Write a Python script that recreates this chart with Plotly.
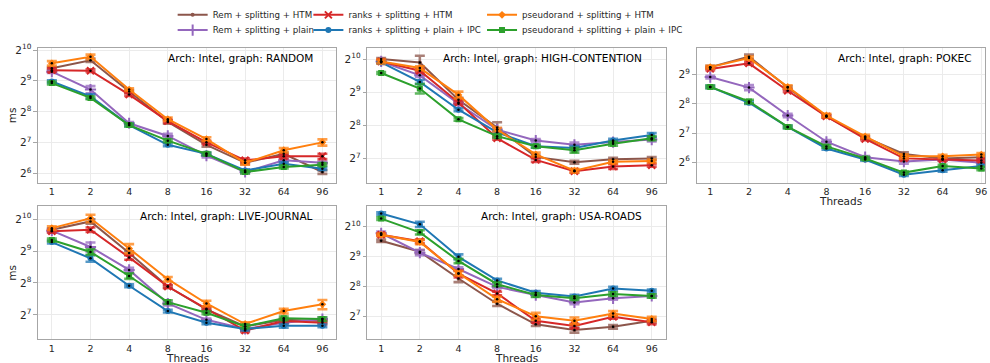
import plotly.graph_objects as go
import math

# ---------------- data (ms) ----------------
threads = ["1", "2", "4", "8", "16", "32", "64", "96"]

series_names = ["Rem + splitting + HTM", "Rem + splitting + plain",
                "ranks + splitting + HTM", "ranks + splitting + plain + IPC",
                "pseudorand + splitting + HTM", "pseudorand + splitting + plain + IPC"]

# RANDOM
random_rem_htm = [680, 815, 404, 204, 122, 81.5, 99.7, 66.3]
random_rem_plain = [630, 422, 198, 149, 95.7, 66.3, 86.2, 81.5]
random_ranks_htm = [652, 644, 377, 208, 129, 86.2, 94.3, 94.3]
random_ranks_ipc = [505, 362, 190, 122, 99.7, 68.6, 79.9, 71.5]
random_pseudo_htm = [760, 879, 422, 217, 139, 81.5, 108, 129]
random_pseudo_ipc = [488, 350, 190, 134, 99.7, 66.3, 74.1, 78.2]

# HIGH-CONTENTION
hc_rem_htm = [1024, 955, 437, 244, 132, 118, 126, 128]
hc_rem_plain = [975, 729, 402, 234, 186, 170, 180, 190]
hc_ranks_htm = [975, 803, 413, 195, 124, 97.7, 108, 111]
hc_ranks_ipc = [955, 635, 355, 221, 165, 159, 186, 209]
hc_pseudo_htm = [975, 849, 484, 234, 139, 99.1, 119, 121]
hc_pseudo_ipc = [765, 553, 290, 204, 165, 152, 174, 195]

# POKEC
pokec_rem_htm = [613, 787, 377, 190, 115, 77.7, 70.0, 72.0]
pokec_rem_plain = [484, 377, 194, 104, 72.0, 64.9, 68.1, 63.1]
pokec_ranks_htm = [588, 671, 350, 190, 111, 70.0, 68.1, 66.7]
pokec_ranks_ipc = [383, 263, 148, 88.6, 68.1, 47.5, 52.7, 58.5]
pokec_pseudo_htm = [613, 760, 383, 194, 118, 73.5, 73.5, 76.6]
pokec_pseudo_ipc = [383, 271, 148, 93.0, 70.0, 49.9, 58.5, 54.9]

# LIVE-JOURNAL
lj_rem_htm = [815, 975, 491, 237, 144, 99.7, 115, 112]
lj_rem_plain = [798, 560, 340, 164, 115, 94.3, 108, 117]
lj_ranks_htm = [787, 815, 446, 237, 146, 91.1, 112, 108]
lj_ranks_ipc = [622, 437, 241, 139, 108, 94.3, 101, 101]
lj_pseudo_htm = [843, 1045, 541, 278, 164, 105, 139, 161]
lj_pseudo_ipc = [652, 502, 298, 169, 134, 99.7, 119, 117]

# USA-ROADS
usa_rem_htm = [739, 572, 307, 171, 106, 93.0, 100, 115]
usa_rem_plain = [879, 560, 383, 253, 209, 176, 194, 205]
usa_ranks_htm = [849, 729, 343, 217, 115, 102, 126, 111]
usa_ranks_ipc = [1389, 1082, 508, 294, 221, 202, 244, 231]
usa_pseudo_htm = [849, 719, 347, 190, 128, 115, 136, 120]
usa_pseudo_ipc = [1235, 898, 462, 269, 209, 194, 214, 205]

# error bars (percent of value)
random_err = [[3, 4, 3, 4, 4, 3, 3, 4], [3, 8, 3, 5, 4, 3, 3, 3], [4, 3, 3, 3, 3, 4, 4, 6],
              [3, 5, 3, 3, 3, 3, 3, 3], [5, 5, 3, 4, 4, 4, 5, 7], [3, 3, 3, 3, 3, 3, 3, 3]]
hc_err = [[2, 15, 4, 12, 3, 3, 3, 3], [2, 3, 3, 3, 3, 5, 3, 4], [3, 3, 3, 3, 4, 3, 5, 3],
          [2, 4, 3, 3, 3, 4, 4, 4], [4, 4, 7, 4, 4, 4, 3, 3], [2, 10, 3, 3, 3, 5, 4, 4]]
pokec_err = [[3, 5, 3, 3, 3, 4, 4, 4], [3, 6, 4, 4, 3, 5, 3, 3], [3, 3, 3, 3, 3, 3, 3, 3],
             [3, 3, 3, 3, 3, 3, 3, 3], [3, 4, 4, 4, 4, 5, 4, 4], [3, 4, 3, 3, 3, 3, 3, 4]]
lj_err = [[3, 5, 4, 3, 3, 3, 3, 3], [3, 10, 5, 4, 3, 3, 3, 3], [3, 5, 5, 3, 3, 3, 3, 3],
          [3, 7, 3, 3, 3, 3, 4, 3], [4, 8, 10, 5, 6, 4, 5, 10], [3, 6, 6, 4, 3, 4, 4, 4]]
usa_err = [[3, 4, 8, 5, 4, 6, 4, 4], [4, 6, 4, 3, 3, 4, 3, 3], [3, 4, 8, 4, 4, 5, 4, 4],
           [3, 6, 6, 4, 4, 4, 4, 3], [3, 5, 5, 6, 8, 8, 6, 5], [3, 5, 5, 4, 4, 4, 4, 4]]

panel_titles = ["RANDOM", "HIGH-CONTENTION", "POKEC", "LIVE-JOURNAL", "USA-ROADS"]

colors = ["#8c564b", "#9467bd", "#d62728", "#1f77b4", "#ff7f0e", "#2ca02c"]
err_colors = ["rgba(140,86,75,0.75)", "rgba(148,103,189,0.75)", "rgba(214,39,40,0.75)",
              "rgba(31,119,180,0.75)", "rgba(255,127,14,0.75)", "rgba(44,160,44,0.75)"]
symbols = ["circle", "cross-thin", "x-thin", "circle", "diamond", "square"]
msizes = [4, 8, 7, 6, 6, 6]
legend_ids = ["legend", "legend2", "legend3", "legend4", "legend5", "legend6"]

panels = [
    [random_rem_htm, random_rem_plain, random_ranks_htm, random_ranks_ipc, random_pseudo_htm, random_pseudo_ipc],
    [hc_rem_htm, hc_rem_plain, hc_ranks_htm, hc_ranks_ipc, hc_pseudo_htm, hc_pseudo_ipc],
    [pokec_rem_htm, pokec_rem_plain, pokec_ranks_htm, pokec_ranks_ipc, pokec_pseudo_htm, pokec_pseudo_ipc],
    [lj_rem_htm, lj_rem_plain, lj_ranks_htm, lj_ranks_ipc, lj_pseudo_htm, lj_pseudo_ipc],
    [usa_rem_htm, usa_rem_plain, usa_ranks_htm, usa_ranks_ipc, usa_pseudo_htm, usa_pseudo_ipc],
]
panel_errs = [random_err, hc_err, pokec_err, lj_err, usa_err]

# ---------------- layout geometry ----------------
W, H = 990, 363
xdoms = [(38, 337), (368, 667), (698, 987), (38, 337), (368, 667)]
ydoms = [(42, 179), (42, 179), (42, 179), (203, 339), (203, 339)]
xranges = [[-0.36, 7.36], [-0.36, 7.36], [-0.353, 7.095], [-0.36, 7.36], [-0.36, 7.36]]
yranges_log2 = [(5.71, 10.06), (6.27, 10.33), (5.30, 9.91), (6.23, 10.41), (6.22, 10.69)]

fig = go.Figure()
tick_color = "#262626"
frame_color = "#a6a6a6"
grid_color = "#ebebeb"
FONT = "DejaVu Sans"

for p in range(5):
    ax = "" if p == 0 else str(p + 1)
    xa, ya = "x" + ax, "y" + ax
    for s in range(6):
        vals = panels[p][s]
        errs = [v * e / 100.0 for v, e in zip(vals, panel_errs[p][s])]
        mk = dict(symbol=symbols[s], size=msizes[s], color=colors[s])
        if symbols[s] in ("cross-thin", "x-thin"):
            mk["line"] = dict(color=colors[s], width=2)
        fig.add_trace(go.Scatter(
            x=threads, y=vals, mode="lines+markers", name=series_names[s],
            line=dict(color=colors[s], width=2), marker=mk,
            error_y=dict(type="data", array=errs, visible=True, color=err_colors[s],
                         thickness=2.6, width=5),
            xaxis=xa, yaxis=ya, legend=legend_ids[s], showlegend=(p == 0),
        ))
    # black centre dots
    allx, ally = [], []
    for s in range(6):
        allx += threads
        ally += panels[p][s]
    fig.add_trace(go.Scatter(x=allx, y=ally, mode="markers",
                             marker=dict(color="black", size=2.5), showlegend=False,
                             hoverinfo="skip", xaxis=xa, yaxis=ya))

    lo, hi = yranges_log2[p]
    exps = list(range(int(math.ceil(lo)), int(math.floor(hi)) + 1))
    tv = [2 ** n for n in exps]
    tt = ["2<sup>%d</sup>" % n for n in exps]
    xd = [xdoms[p][0] / W, xdoms[p][1] / W]
    yd = [1 - ydoms[p][1] / H, 1 - ydoms[p][0] / H]
    fig.layout["xaxis" + ax] = dict(
        domain=xd, anchor=ya, type="category", range=xranges[p],
        showline=True, mirror=True, linecolor=frame_color, linewidth=1,
        showgrid=True, gridcolor=grid_color, gridwidth=1, zeroline=False,
        ticks="",
        tickfont=dict(family=FONT, size=9.5, color=tick_color),
    )
    fig.layout["yaxis" + ax] = dict(
        domain=yd, anchor=xa, type="log",
        range=[lo * math.log10(2), hi * math.log10(2)],
        tickvals=tv, ticktext=tt,
        showline=True, mirror=True, linecolor=frame_color, linewidth=1,
        showgrid=True, gridcolor=grid_color, gridwidth=1, zeroline=False,
        ticks="outside", ticklen=3.5, tickcolor=frame_color,
        tickfont=dict(family=FONT, size=10.5, color=tick_color),
    )
    fig.add_annotation(
        text="Arch: Intel, graph: " + panel_titles[p], xref=xa, yref=ya + " domain",
        x=6.8, y=0.925, xanchor="right", yanchor="middle", showarrow=False,
        font=dict(family=FONT, size=10.5, color="black"),
    )
    if p in (2, 3, 4):
        fig.add_annotation(
            text="Threads", xref=xa + " domain", yref="paper", x=0.5,
            y=1 - (ydoms[p][1] + 18.5) / H, xanchor="center", yanchor="middle",
            showarrow=False, font=dict(family=FONT, size=10.5, color=tick_color),
        )
    if p in (0, 3):
        fig.add_annotation(
            text="ms", xref="paper", yref=ya + " domain", x=12 / W, y=0.5,
            xanchor="center", yanchor="middle", textangle=-90,
            showarrow=False, font=dict(family=FONT, size=10.5, color=tick_color),
        )

leg_pos = [(173, 8), (173, 23.5), (309, 8), (309, 23.5), (483, 8), (483, 23.5)]
legends = {}
for i, (lx, ly) in enumerate(leg_pos):
    legends[legend_ids[i]] = dict(
        orientation="v", yanchor="middle", xanchor="left",
        x=lx / W, y=1 - ly / H,
        font=dict(family=FONT, size=8.7, color=tick_color),
        bgcolor="rgba(255,255,255,0)", itemwidth=30, tracegroupgap=0,
    )

fig.update_layout(
    width=W, height=H, margin=dict(l=0, r=0, t=0, b=0),
    paper_bgcolor="white", plot_bgcolor="white", **legends,
)

fig.write_html("out.html")
